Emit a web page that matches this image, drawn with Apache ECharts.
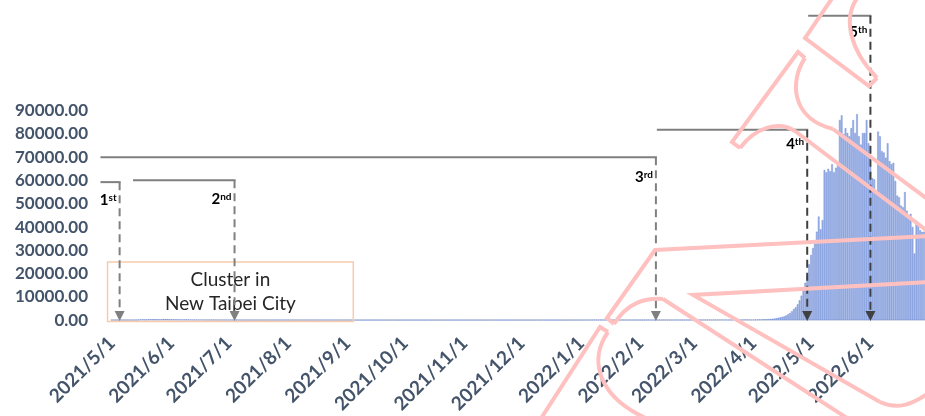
<!DOCTYPE html>
<html><head><meta charset="utf-8">
<script src="https://cdn.jsdelivr.net/npm/echarts@6/dist/echarts.min.js"></script>
<style>html,body{margin:0;padding:0;background:#fff}#c{width:925px;height:416px}</style>
</head><body><div id="c"></div>
<script>
// ---- data: daily cases, one array per month, starting 2021/5/1 ----
const startDate = [2021, 5, 1];
const may2021 = [1,0,2,1,3,4,2,3,4,3,7,16,29,34,180,206,333,245,267,286,321,312,350,334,302,283,295,420,400,380,320];
const jun2021 = [300,280,260,250,230,220,200,230,260,210,190,180,160,150,170,155,140,125,115,105,95,88,90,78,70,80,62,55,60,50];
const jul2021 = [45,40,35,30,28,32,25,22,26,20,18,22,15,13,12,14,10,12,9,8,7,6,9,6,5,5,4,6,4,3,3];
const aug2021 = [6,4,3,5,8,7,4,3,6,5,10,4,3,7,5,4,9,3,6,4,5,7,3,4,6,5,3,9,4,3,5];
const sep2021 = [6,8,5,4,9,7,5,10,6,8,4,7,9,5,6,11,8,6,5,7,9,12,6,8,10,7,5,9,8,6];
const oct2021 = [7,5,9,6,8,4,10,7,6,12,9,5,8,7,10,6,9,11,8,5,7,12,9,6,8,10,7,11,9,8,6];
const nov2021 = [9,7,12,10,8,11,6,9,13,10,8,12,9,11,14,10,7,12,15,9,11,13,10,8,12,14,11,9,13,10];
const dec2021 = [12,15,10,14,18,13,16,12,20,17,14,22,19,16,24,18,21,17,25,20,23,19,26,22,28,24,30,26,32,35,40];
const jan2022 = [30,42,38,55,60,52,70,80,75,90,85,72,95,88,102,92,85,78,88,80,70,75,68,58,62,66,52,55,48,60,54];
const feb2022 = [45,40,52,48,60,56,50,46,42,55,50,62,70,58,52,66,60,56,72,82,62,58,66,72,78,64,72,84];
const mar2022 = [90,86,72,82,100,110,92,118,150,102,128,140,118,112,130,150,160,138,122,132,148,140,128,152,160,172,180,205,190,175,160];
const apr2022 = [180,200,220,250,270,300,330,380,430,500,550,700,800,1000,1200,1400,1600,2000,2500,3000,3800,4800,5500,6800,8500,10500,13000,16000,19000,24000];
const may2022 = [28000,31000,33000,38000,44500,39000,43000,64500,63500,65000,64000,67000,63500,65500,67000,86000,88000,80000,82500,80400,79000,82500,86000,80400,88500,79000,75400,80400,80400,86000,76000];
const jun2022 = [66000,61000,60500,55000,81000,79000,72600,72000,69800,76000,68300,67000,67600,59800,53500,52800,49200,48500,55000,47000,45000,45700,40000,28600,42800,40700,38600,37900,38000];

const yTicks = [0,10000,20000,30000,40000,50000,60000,70000,80000,90000];

// wave annotations (dates + levels in data units)
const waves = [
  {n:'1', sup:'st', from:-6,    to:'2021/5/5', level:59300, color:'#808080', dy:18},
  {n:'2', sup:'nd', from:11,    to:'2021/7/4', level:60100, color:'#808080', dy:19},
  {n:'3', sup:'rd', from:-6,    to:'2022/2/9', level:70000, color:'#808080', dy:20},
  {n:'4', sup:'th', from:284.5, to:'2022/4/29', level:81800, color:'#404040', dy:14},
  {n:'5', sup:'th', from:363.5, to:'2022/6/1', level:130800, color:'#404040', dy:16}
];

const values = [].concat(may2021,jun2021,jul2021,aug2021,sep2021,oct2021,nov2021,dec2021,jan2022,feb2022,mar2022,apr2022,may2022,jun2022);
const categories = [];
{
  const d = new Date(startDate[0], startDate[1]-1, startDate[2]);
  for (let i = 0; i < values.length; i++) {
    categories.push(d.getFullYear() + '/' + (d.getMonth()+1) + '/' + d.getDate());
    d.setDate(d.getDate()+1);
  }
}

const LABEL_FONT = 'Lato';
const chart = echarts.init(document.getElementById('c'), null, {renderer:'canvas'});
chart.setOption({
  animation: false,
  backgroundColor: '#ffffff',
  grid: {left: 111, right: 0, top: 110.7, bottom: 93.7, containLabel: false},
  xAxis: {
    type: 'category', data: categories, boundaryGap: true,
    axisLine: {show: true, lineStyle: {color: '#d9dce6', width: 1.5}},
    axisTick: {show: false},
    axisLabel: {
      interval: (idx, val) => val.split('/')[2] === '1',
      rotate: 45, margin: 20,
      color: '#44546a', fontFamily: LABEL_FONT, fontWeight: 'bold', fontSize: 19
    },
    splitLine: {show: false}
  },
  yAxis: {
    type: 'value', min: 0, max: 90000, interval: 10000,
    axisLine: {show: false}, axisTick: {show: false}, splitLine: {show: false},
    axisLabel: {
      formatter: v => v.toFixed(2), margin: 23,
      color: '#44546a', fontFamily: LABEL_FONT, fontWeight: 'bold', fontSize: 17
    }
  },
  series: [{
    type: 'bar', data: values, barCategoryGap: '15%',
    itemStyle: {color: '#a3b7e8', borderColor: '#5a7bd0', borderWidth: 0.4}
  }]
});

function measure(text, font) {
  const c = document.createElement('canvas').getContext('2d');
  c.font = font; return c.measureText(text).width;
}

function drawAnnotations() {
  const first = categories[0], last = categories[categories.length-1];
  const x0 = chart.convertToPixel({xAxisIndex:0}, first);
  const xN = chart.convertToPixel({xAxisIndex:0}, last);
  const step = (xN - x0) / (categories.length - 1);
  const xAt = d => typeof d === 'number' ? x0 + d*step : x0 + categories.indexOf(d)*step;
  const y0 = chart.convertToPixel({yAxisIndex:0}, 0);
  const y90 = chart.convertToPixel({yAxisIndex:0}, 90000);
  const yAt = v => y0 + (v/90000)*(y90 - y0);

  const els = [];
  // cluster box
  const bx1 = xAt(-2.3), bx2 = xAt(126), by1 = yAt(25000), by2 = y0 + 1.5;
  els.push({type:'rect', z:5, shape:{x:bx1, y:by1, width:bx2-bx1, height:by2-by1},
    style:{fill:'none', stroke:'#f8cbad', lineWidth:1.5}});
  els.push({type:'text', z:6, style:{text:'Cluster in\nNew Taipei City', x:(bx1+bx2)/2, y:(by1+by2)/2,
    align:'center', verticalAlign:'middle', font:'19px Lato', lineHeight:24, fill:'#262626'}});

  const mainFont = 'bold 15px Lato', supFont = 'bold 10px Lato';
  waves.forEach(w => {
    const xs = xAt(w.from), xe = xAt(w.to), yl = yAt(w.level);
    els.push({type:'line', z:8, shape:{x1:xs, y1:yl, x2:xe+1, y2:yl}, style:{stroke:'#7f7f7f', lineWidth:2}});
    els.push({type:'line', z:8, shape:{x1:xe, y1:yl, x2:xe, y2:y0-7}, style:{stroke:w.color, lineWidth:2, lineDash:[8,5]}});
    els.push({type:'polygon', z:8, shape:{points:[[xe-5,y0-9],[xe+5,y0-9],[xe,y0+1]]}, style:{fill:w.color}});
    const sw = measure(w.sup, supFont);
    const right = xe - 3;
    const cy = yl + w.dy;
    els.push({type:'text', z:9, style:{text:w.sup, x:right, y:cy-7, align:'right', verticalAlign:'top', font:supFont, fill:'#000'}});
    els.push({type:'text', z:9, style:{text:w.n, x:right-sw, y:cy, align:'right', verticalAlign:'middle', font:mainFont, fill:'#000'}});
  });

  // pink overlay outline (watermark-like shape)
  const pink = {stroke:'#ffc0c0', lineWidth:4, fill:null, lineJoin:'miter'};
  const polys = [
    [[833,-3],[805,38],[869,86],[877,78]],
    [[740,148],[732,142],[798,52],[805,58]],
    [[833,129],[930,201]],
    [[795,131],[930,233]],
    [[930,236],[655,250],[607,318],[614,324]],
    [[663,299],[850,420]],
    [[930,282],[693,295],[880,402]],
    [[540,420],[600,327],[608,332]]
  ];
  const curves = [
    [877,78, 850,50, 842,18, 858,-3],
    [805,58, 790,80, 790,118, 833,129],
    [740,148, 755,128, 778,120, 795,131],
    [614,324, 628,302, 645,298, 663,299],
    [880,402, 897,410, 912,405, 930,392],
    [608,332, 588,360, 598,398, 650,420]
  ];
  polys.forEach(p => els.push({type:'polyline', z:20, shape:{points:p}, style:Object.assign({}, pink)}));
  curves.forEach(c => els.push({type:'bezierCurve', z:20,
    shape:{x1:c[0], y1:c[1], cpx1:c[2], cpy1:c[3], cpx2:c[4], cpy2:c[5], x2:c[6], y2:c[7]},
    style:Object.assign({}, pink)}));

  chart.setOption({graphic: {elements: els}});
}
drawAnnotations();
</script>
</body></html>
